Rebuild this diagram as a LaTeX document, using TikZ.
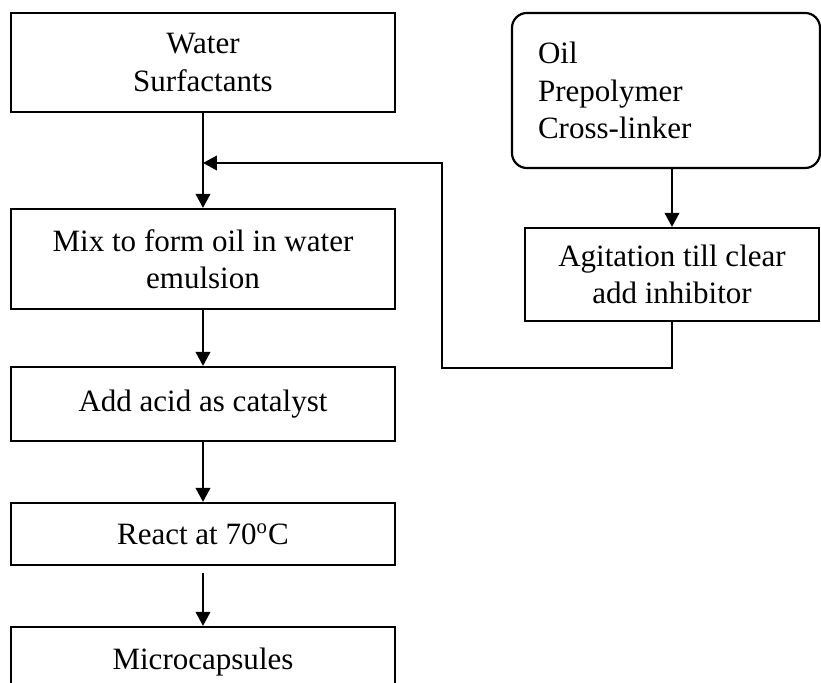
\documentclass[tikz,border=0pt]{standalone}
\usepackage{fontspec}
\setmainfont{Liberation Serif}
\usetikzlibrary{arrows.meta}
\newcommand\pxu{0.0136cm}

\begin{document}
\begin{tikzpicture}[x=\pxu, y=-\pxu,
  font=\fontsize{12}{14.4}\selectfont,
  box/.style={draw, line width=0.85pt, align=center, inner sep=0pt},
  flow/.style={-{Triangle[length=5.4pt,width=5.6pt]}, line width=0.85pt}]
\useasboundingbox (0,0) rectangle (821,683);
\node [box, minimum width=5.222cm, minimum height=1.346cm] (water) at (203,62.5) {Water\\Surfactants};
\node [box, rounded corners=5.8pt, align=left, text width=3.48cm, inner xsep=0.354cm, minimum height=2.108cm] (oil) at (666,90.5) {Oil\\Prepolymer\\Cross-linker};
\node [box, minimum width=5.222cm, minimum height=1.36cm] (mix) at (203,259) {Mix to form oil in water\\emulsion};
\node [box, minimum width=3.998cm, minimum height=1.265cm] (agit) at (672,274.5) {Agitation till clear\\add inhibitor};
\node [box, minimum width=5.222cm, minimum height=1.006cm] (acid) at (203,404) {Add acid as catalyst};
\node [box, minimum width=5.222cm, minimum height=0.843cm] (react) at (203,534) {React at 70\textsuperscript{o}C};
\node [box, minimum width=5.222cm, minimum height=0.952cm] (micro) at (203,662) {Microcapsules};
\coordinate (merge) at (203,163);
\coordinate (turn) at (442,368);
\draw [flow] (water.south) -- (mix.north);
\draw [flow] (oil.south -| agit.north) -- (agit.north);
\draw [flow] (agit.south) |- (turn) |- (merge);
\draw [flow] (mix.south) -- (acid.north);
\draw [flow] (acid.south) -- (react.north);
\draw [flow, shorten <=2.7pt] (react.south) -- (micro.north);
\end{tikzpicture}
\end{document}
